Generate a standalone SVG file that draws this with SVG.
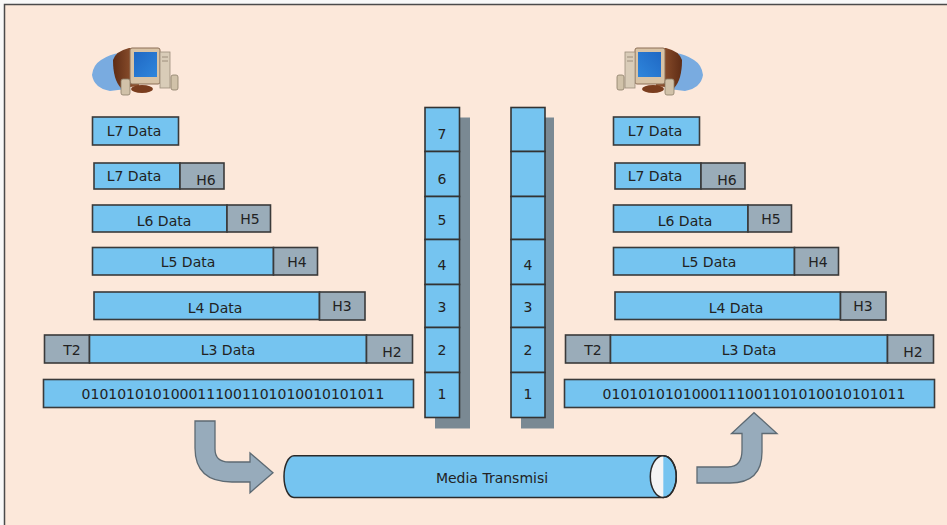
<svg xmlns="http://www.w3.org/2000/svg" xmlns:xlink="http://www.w3.org/1999/xlink" width="947" height="525" viewBox="0 0 947 525">
  <style>
    text { font-family: "DejaVu Sans", Verdana, sans-serif; font-size: 14px; fill: #222; text-anchor: middle; }
    .data { fill: #75c4f0; stroke: #3a3a3a; stroke-width: 1.6; }
    .hdr { fill: #9aacb9; stroke: #3a3a3a; stroke-width: 1.6; }
    .cell { fill: #75c4f0; stroke: #333; stroke-width: 1.6; }
    .shadow { fill: #7a8993; }
    .bend { fill: #97abbb; stroke: #5d6a73; stroke-width: 1.3; }
  </style>
  <defs>
    <linearGradient id="screenGrad" x1="0" y1="0" x2="1" y2="1">
      <stop offset="0" stop-color="#1f68c4"/>
      <stop offset="1" stop-color="#2f86dc"/>
    </linearGradient>
    <linearGradient id="caseGrad" x1="0" y1="0" x2="1" y2="0">
      <stop offset="0" stop-color="#5e2c15"/>
      <stop offset="1" stop-color="#9a5a34"/>
    </linearGradient>
    <!-- desktop computer icon -->
    <g id="pc">
      <path d="M101,60 Q110,54 120,53 L126,89 L110,91 Q94,88 92,75 Q93,65 101,60 Z" fill="#79abe0"/>
      <path d="M113,60 Q116,51 129,48 L139,48 L139,86 L121,88 Q113,80 113,60 Z" fill="url(#caseGrad)"/>
      <rect x="130" y="48" width="30" height="36" rx="2" fill="#d8c3a6" stroke="#8c6f57" stroke-width="1"/>
      <rect x="134" y="52" width="23" height="25" fill="url(#screenGrad)"/>
      <ellipse cx="142" cy="89" rx="11" ry="4" fill="#7a3d1e"/>
      <rect x="160" y="52" width="10" height="36" fill="#d9ccb8" stroke="#9b8d7a" stroke-width="0.8"/>
      <line x1="162" y1="57" x2="168" y2="57" stroke="#8f8270" stroke-width="0.8"/>
      <line x1="162" y1="61" x2="168" y2="61" stroke="#8f8270" stroke-width="0.8"/>
      <rect x="121" y="79" width="9" height="16" rx="2" fill="#d1c2a9" stroke="#8c7d68" stroke-width="0.8"/>
      <rect x="171" y="75" width="7" height="15" rx="2" fill="#d1c2a9" stroke="#8c7d68" stroke-width="0.8"/>
    </g>
  </defs>

  <!-- page and frame -->
  <rect x="0" y="0" width="947" height="525" fill="#f8f8f8"/>
  <rect x="4.5" y="4.5" width="960" height="540" fill="#fce8da" stroke="#4a4a4a" stroke-width="1.5"/>

  <!-- sender -->
  <g id="pc-left"><use xlink:href="#pc"/></g>

  <g id="left-stack">
    <g id="l-row7"><rect class="data" x="92.5" y="117" width="86" height="28"/><text x="134" y="136">L7 Data</text></g>
    <g id="l-row6">
      <rect class="data" x="94" y="163" width="86" height="26"/><text x="134" y="181">L7 Data</text>
      <rect class="hdr" x="180" y="163" width="44" height="26"/><text x="206" y="185">H6</text>
    </g>
    <g id="l-row5">
      <rect class="data" x="92.5" y="205" width="134.5" height="27"/><text x="164" y="226">L6 Data</text>
      <rect class="hdr" x="227" y="205" width="43.5" height="27"/><text x="250" y="224">H5</text>
    </g>
    <g id="l-row4">
      <rect class="data" x="92.5" y="247.5" width="181" height="27.5"/><text x="188" y="267">L5 Data</text>
      <rect class="hdr" x="273.5" y="247.5" width="44" height="27.5"/><text x="297" y="267">H4</text>
    </g>
    <g id="l-row3">
      <rect class="data" x="94" y="292" width="225.5" height="27.5"/><text x="215" y="313">L4 Data</text>
      <rect class="hdr" x="319.5" y="292" width="45.5" height="28"/><text x="342" y="311">H3</text>
    </g>
    <g id="l-row2">
      <rect class="hdr" x="44.5" y="335" width="45" height="28"/><text x="72" y="355">T2</text>
      <rect class="data" x="89.5" y="335" width="277" height="28"/><text x="228" y="355">L3 Data</text>
      <rect class="hdr" x="366.5" y="335" width="46" height="28"/><text x="392" y="357">H2</text>
    </g>
    <g id="l-row1"><rect class="data" x="43.5" y="379.5" width="370" height="28"/><text x="233" y="399">0101010101000111001101010010101011</text></g>
  </g>

  <!-- receiver -->
  <g id="pc-right"><use xlink:href="#pc" transform="translate(795,0) scale(-1,1)"/></g>

  <g id="right-stack" transform="translate(521,0)">
    <g id="r-row7"><rect class="data" x="92.5" y="117" width="86" height="28"/><text x="134" y="136">L7 Data</text></g>
    <g id="r-row6">
      <rect class="data" x="94" y="163" width="86" height="26"/><text x="134" y="181">L7 Data</text>
      <rect class="hdr" x="180" y="163" width="44" height="26"/><text x="206" y="185">H6</text>
    </g>
    <g id="r-row5">
      <rect class="data" x="92.5" y="205" width="134.5" height="27"/><text x="164" y="226">L6 Data</text>
      <rect class="hdr" x="227" y="205" width="43.5" height="27"/><text x="250" y="224">H5</text>
    </g>
    <g id="r-row4">
      <rect class="data" x="92.5" y="247.5" width="181" height="27.5"/><text x="188" y="267">L5 Data</text>
      <rect class="hdr" x="273.5" y="247.5" width="44" height="27.5"/><text x="297" y="267">H4</text>
    </g>
    <g id="r-row3">
      <rect class="data" x="94" y="292" width="225.5" height="27.5"/><text x="215" y="313">L4 Data</text>
      <rect class="hdr" x="319.5" y="292" width="45.5" height="28"/><text x="342" y="311">H3</text>
    </g>
    <g id="r-row2">
      <rect class="hdr" x="44.5" y="335" width="45" height="28"/><text x="72" y="355">T2</text>
      <rect class="data" x="89.5" y="335" width="277" height="28"/><text x="228" y="355">L3 Data</text>
      <rect class="hdr" x="366.5" y="335" width="46" height="28"/><text x="392" y="357">H2</text>
    </g>
    <g id="r-row1"><rect class="data" x="43.5" y="379.5" width="370" height="28"/><text x="233" y="399">0101010101000111001101010010101011</text></g>
  </g>

  <!-- layer columns -->
  <g id="col-left">
    <rect class="shadow" x="435" y="117.5" width="35" height="311"/>
    <rect class="cell" x="425" y="107.5" width="34.5" height="44"/><text x="442" y="139">7</text>
    <rect class="cell" x="425" y="151.5" width="34.5" height="45"/><text x="442" y="183.5">6</text>
    <rect class="cell" x="425" y="196.5" width="34.5" height="43"/><text x="442" y="225">5</text>
    <rect class="cell" x="425" y="239.5" width="34.5" height="45"/><text x="442" y="269.5">4</text>
    <rect class="cell" x="425" y="284.5" width="34.5" height="43"/><text x="442" y="312">3</text>
    <rect class="cell" x="425" y="327.5" width="34.5" height="45"/><text x="442" y="355">2</text>
    <rect class="cell" x="425" y="372.5" width="34.5" height="45"/><text x="442" y="399">1</text>
  </g>
  <g id="col-right">
    <rect class="shadow" x="521" y="117.5" width="33" height="311"/>
    <rect class="cell" x="511" y="107.5" width="34" height="44"/>
    <rect class="cell" x="511" y="151.5" width="34" height="45"/>
    <rect class="cell" x="511" y="196.5" width="34" height="43"/>
    <rect class="cell" x="511" y="239.5" width="34" height="45"/><text x="528" y="269.5">4</text>
    <rect class="cell" x="511" y="284.5" width="34" height="43"/><text x="528" y="312">3</text>
    <rect class="cell" x="511" y="327.5" width="34" height="45"/><text x="528" y="355">2</text>
    <rect class="cell" x="511" y="372.5" width="34" height="45"/><text x="528" y="399">1</text>
  </g>

  <!-- transmission medium -->
  <g id="media">
    <path d="M294,455.8 L663.3,455.8 A13,20.8 0 0 1 663.3,497.4 L294,497.4 A10,20.8 0 0 1 294,455.8 Z" fill="#75c4f0" stroke="#2a2a2a" stroke-width="1.5"/>
    <path d="M663.3,455.8 A13,20.8 0 0 0 663.3,497.4 Z" fill="#f4f4f4"/>
    <ellipse cx="663.3" cy="476.6" rx="13" ry="20.8" fill="none" stroke="#2a2a2a" stroke-width="1.5"/>
    <text x="492" y="483">Media Transmisi</text>
  </g>

  <!-- flow arrows -->
  <g id="connectors">
    <path class="bend" d="M195,421 L215,421 L215,449 Q215,462 229,462 L250,462 L250,453 L273,472.7 L250,492.7 L250,482 L232,482 Q195,482 195,448 Z"/>
    <path class="bend" d="M697,467 L728,467 Q742,467 742,450 L742,433.5 L731.5,433.5 L754,412.7 L777,433.5 L762,433.5 L762,452 Q762,483 730,483 L697,483 Z"/>
  </g>
</svg>
